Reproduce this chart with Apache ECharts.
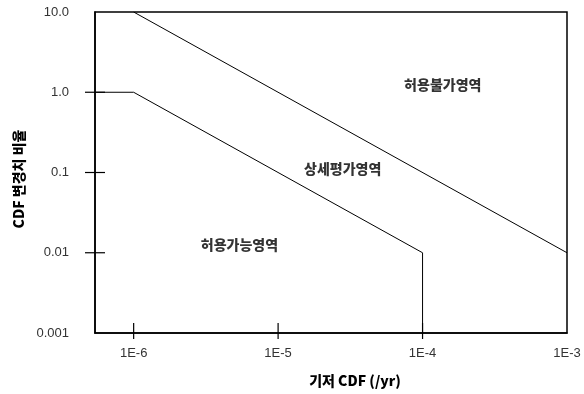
<!DOCTYPE html>
<html>
<head>
<meta charset="utf-8">
<script src="https://cdn.jsdelivr.net/npm/echarts@6/dist/echarts.min.js"></script>
<style>html,body{margin:0;padding:0;background:#fff}#c{width:584px;height:394px}</style>
</head>
<body>
<div id="c"></div>
<script>
// ---- data ----
var xMin = 5.4e-7, xMax = 1e-3;
var yMin = 0.001, yMax = 10;
var xTickValues = [1e-6, 1e-5, 1e-4, 1e-3];
var xTickLabels = ['1E-6', '1E-5', '1E-4', '1E-3'];
var yTickValues = [0.001, 0.01, 0.1, 1, 10];
var yTickLabels = ['0.001', '0.01', '0.1', '1.0', '10.0'];
// upper boundary (허용불가 / 상세평가)
var upperX = [1e-6, 1e-3];
var upperY = [10, 0.01];
// lower boundary (상세평가 / 허용가능)
var lowerX = [5.4e-7, 1e-6, 1e-4, 1e-4];
var lowerY = [1, 1, 0.01, 0.001];
// region labels
var regionNames = ['허용불가영역', '상세평가영역', '허용가능영역'];
var regionX = [1.38e-4, 2.8e-5, 5.4e-6];
var regionY = [1.23, 0.111, 0.0125];
// crossing tick marks
var yCrossTicks = [1, 0.1, 0.01];
var xCrossTicks = [1e-6, 1e-5, 1e-4];
var xTitle = '기저 CDF (/yr)';
var yTitle = 'CDF 변경치 비율';

function zip(a, b) { return a.map(function (v, i) { return [v, b[i]]; }); }
function fmt(values, labels) {
  return function (v) {
    var e = Math.round(Math.log10(v) * 1000) / 1000;
    for (var i = 0; i < values.length; i++) {
      if (Math.abs(Math.log10(values[i]) - e) < 1e-3) return labels[i];
    }
    return '';
  };
}
var tickData = yCrossTicks.map(function (v) { return [xMin, v, 0]; })
  .concat(xCrossTicks.map(function (v) { return [v, yMin, 1]; }));

var chart = echarts.init(document.getElementById('c'), null, { renderer: 'canvas' });
var tickFont = { fontFamily: 'Liberation Sans', fontSize: 13, color: '#333' };
chart.setOption({
  animation: false,
  backgroundColor: '#fff',
  grid: { left: 95, top: 12, right: 17, bottom: 61, show: true, borderColor: '#000', borderWidth: 1.5, backgroundColor: 'transparent' },
  xAxis: {
    type: 'log', logBase: 10, min: xMin, max: xMax,
    name: xTitle, nameLocation: 'middle', nameGap: 41,
    nameTextStyle: { fontFamily: 'Noto Sans CJK KR', fontWeight: 900, fontSize: 14, color: '#000', padding: [0, 0, 0, 48] },
    axisLine: { show: true, lineStyle: { color: '#000', width: 1.5 } },
    axisTick: { show: false },
    splitLine: { show: false },
    minorTick: { show: false },
    axisLabel: Object.assign({ margin: 14, formatter: function (v) {
      var s = fmt(xTickValues, xTickLabels)(v);
      return s === '1E-3' ? '{r|' + s + '}' : s;
    }, rich: { r: { fontFamily: 'Liberation Sans', fontSize: 13, color: '#333', padding: [0, 0, 10, 0] } } }, tickFont)
  },
  yAxis: {
    type: 'log', logBase: 10, min: yMin, max: yMax,
    name: yTitle, nameLocation: 'middle', nameGap: 66,
    nameTextStyle: { fontFamily: 'Noto Sans CJK KR', fontWeight: 900, fontSize: 14, color: '#000', padding: [0, 13, 0, 0] },
    axisLine: { show: true, lineStyle: { color: '#000', width: 1.5 } },
    axisTick: { show: false },
    splitLine: { show: false },
    axisLabel: Object.assign({ margin: 26, formatter: fmt(yTickValues, yTickLabels) }, tickFont)
  },
  series: [
    {
      name: 'upper', type: 'line', data: zip(upperX, upperY), symbol: 'none',
      lineStyle: { color: '#000', width: 1 }, silent: true
    },
    {
      name: 'lower', type: 'line', data: zip(lowerX, lowerY), symbol: 'none',
      lineStyle: { color: '#000', width: 1 }, silent: true
    },
    {
      name: 'regions', type: 'scatter', symbolSize: 0,
      data: regionNames.map(function (n, i) { return { name: n, value: [regionX[i], regionY[i]] }; }),
      label: { show: true, position: 'inside', formatter: '{b}', fontFamily: 'Noto Sans CJK KR', fontWeight: 900, fontSize: 14, color: '#000' },
      silent: true
    },
    {
      name: 'ticks', type: 'custom', clip: false, silent: true,
      data: tickData,
      renderItem: function (params, api) {
        var p = api.coord([api.value(0), api.value(1)]);
        var horiz = api.value(2) === 0;
        var shape = horiz ? { x1: p[0] - 10, y1: p[1], x2: p[0] + 10, y2: p[1] }
                          : { x1: p[0], y1: p[1] - 10, x2: p[0], y2: p[1] + 6 };
        return { type: 'line', shape: shape, style: { stroke: '#000', lineWidth: 1.2 } };
      }
    }
  ]
});
</script>
</body>
</html>
